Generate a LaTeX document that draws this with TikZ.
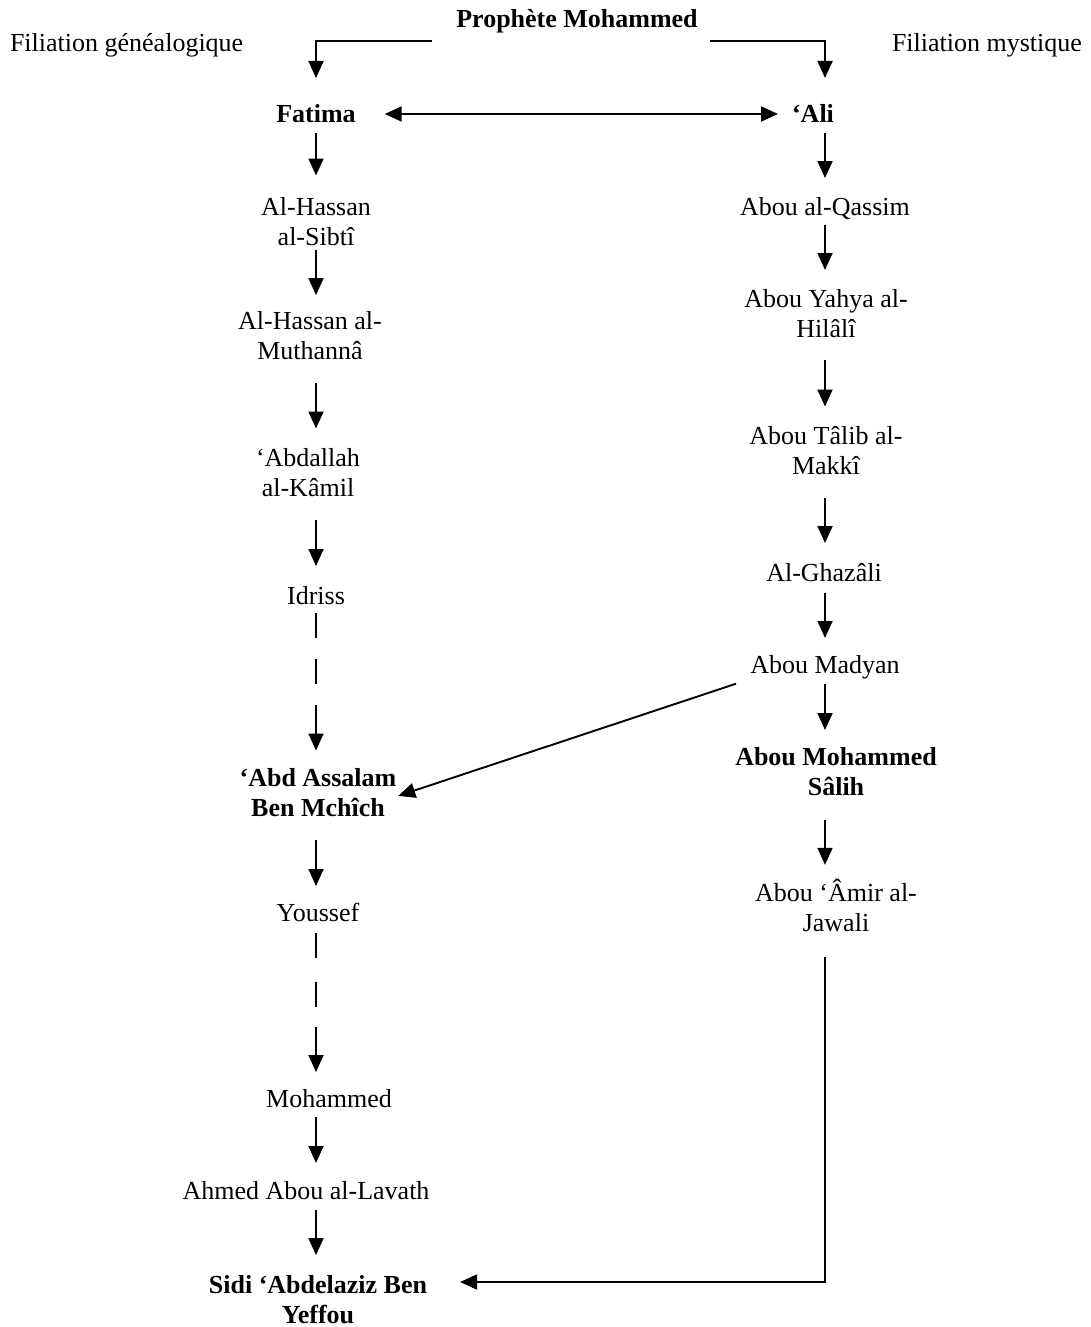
\documentclass[tikz,border=0pt]{standalone}
\usepackage{fontspec}
\setmainfont{Liberation Serif}
\usetikzlibrary{arrows.meta}
\newcommand\ms{\rule[-6pt]{0pt}{28pt}}
\begin{document}
\begin{tikzpicture}[x=1pt,y=-1pt,
  lbl/.style={inner sep=0pt, outer sep=0pt, align=center, font=\fontsize{26}{30}\selectfont},
  bl/.style={lbl, font=\fontsize{26}{30}\selectfont\bfseries},
  ln/.style={line width=1.9pt},
  arr/.style={ln, -{Triangle[length=17pt,width=15pt]}},
  darr/.style={ln, {Triangle[length=17pt,width=15pt]}-{Triangle[length=17pt,width=15pt]}},
  dsh/.style={ln, dash pattern=on 25pt off 21pt},
  dshb/.style={ln, dash pattern=on 25pt off 24pt}]
\fill[white] (0,0) rectangle (1090,1327);
\useasboundingbox (0,0) rectangle (1090,1327);
\coordinate (colL) at (316,0);
\coordinate (colR) at (825,0);
\coordinate (d1) at (316,705);
\coordinate (d2) at (316,1027);
% top
\node[bl] (proph) at (577,20) {\ms Prophète Mohammed};
\node[lbl, anchor=west] (fg) at (10,44) {\ms Filiation généalogique};
\node[lbl, anchor=west] (fm) at (892,44) {\ms Filiation mystique};
\node[bl] (fatima) at (316,114) {\ms Fatima};
\node[bl] (ali) at (813,114) {\ms ‘Ali};
% left column
\node[lbl] (hassan) at (316,222.5) {\ms Al-Hassan\\\ms al-Sibtî};
\node[lbl] (muth) at (310,336) {\ms Al-Hassan al-\\\ms Muthannâ};
\node[lbl] (abdallah) at (308,473.5) {\ms ‘Abdallah\\\ms al-Kâmil};
\node[lbl] (idriss) at (316,596) {\ms Idriss};
\node[bl] (abd) at (318,793.5) {\ms ‘Abd Assalam\\\ms Ben Mchîch};
\node[lbl] (youssef) at (318,913) {\ms Youssef};
\node[lbl] (moh) at (329,1099) {\ms Mohammed};
\node[lbl] (ahmed) at (306,1191) {\ms Ahmed Abou al-Lavath};
\node[bl] (sidi) at (318,1300) {\ms Sidi ‘Abdelaziz Ben\\\ms Yeffou};
% right column
\node[lbl] (qassim) at (825,207) {\ms Abou al-Qassim};
\node[lbl] (yahya) at (826,314) {\ms Abou Yahya al-\\\ms Hilâlî};
\node[lbl] (talib) at (826,451.5) {\ms Abou Tâlib al-\\\ms Makkî};
\node[lbl] (ghazali) at (824,573) {\ms Al-Ghazâli};
\node[lbl] (madyan) at (825,665) {\ms Abou Madyan};
\node[bl] (salih) at (836,772) {\ms Abou Mohammed\\\ms Sâlih};
\node[lbl] (amir) at (836,908) {\ms Abou ‘Âmir al-\\\ms Jawali};
% top connectors
\draw[arr, shorten >=22pt] (proph.south west) ++(-24,7) -| (fatima.north);
\draw[arr, shorten >=22pt] (proph.south east) ++(12,7) -| (ali.north -| colR);
\draw[darr, shorten <=29pt, shorten >=14pt] (fatima.east) -- (ali.west);
% left connectors
\draw[arr, shorten <=5pt, shorten >=18pt] (fatima.south -| colL) -- (hassan.north -| colL);
\draw[arr, shorten <=-2pt, shorten >=12pt] (hassan.south -| colL) -- (muth.north -| colL);
\draw[arr, shorten <=18pt, shorten >=16pt] (muth.south -| colL) -- (abdallah.north -| colL);
\draw[arr, shorten <=17pt, shorten >=16pt] (abdallah.south -| colL) -- (idriss.north -| colL);
\draw[dsh, shorten <=3pt] (idriss.south -| colL) -- (d1);
\draw[arr, shorten >=14pt] (d1) -- (abd.north -| colL);
\draw[arr, shorten <=17pt, shorten >=13pt] (abd.south -| colL) -- (youssef.north -| colL);
\draw[dshb, shorten <=6pt] (youssef.south -| colL) -- (d2);
\draw[arr, shorten >=13pt] (d2) -- (moh.north -| colL);
\draw[arr, shorten <=4pt, shorten >=14pt] (moh.south -| colL) -- (ahmed.north -| colL);
\draw[arr, shorten <=5pt, shorten >=16pt] (ahmed.south -| colL) -- (sidi.north -| colL);
% right connectors
\draw[arr, shorten <=5pt, shorten >=15pt] (ali.south -| colR) -- (qassim.north -| colR);
\draw[arr, shorten <=4pt, shorten >=15pt] (qassim.south -| colR) -- (yahya.north -| colR);
\draw[arr, shorten <=17pt, shorten >=16pt] (yahya.south -| colR) -- (talib.north -| colR);
\draw[arr, shorten <=17pt, shorten >=16pt] (talib.south -| colR) -- (ghazali.north -| colR);
\draw[arr, shorten <=6pt, shorten >=13pt] (ghazali.south -| colR) -- (madyan.north -| colR);
\draw[arr, shorten <=5pt, shorten >=13pt] (madyan.south -| colR) -- (salih.north -| colR);
\draw[arr, shorten <=19pt, shorten >=14pt] (salih.south -| colR) -- (amir.north -| colR);
% cross connectors
\draw[arr, shorten <=15pt, shorten >=2pt] (madyan.south west) -- ([yshift=-3pt]abd.east);
\draw[arr, shorten <=20pt, shorten >=33pt] (amir.south -| colR) |- ([yshift=18pt]sidi.east);
\end{tikzpicture}
\end{document}
